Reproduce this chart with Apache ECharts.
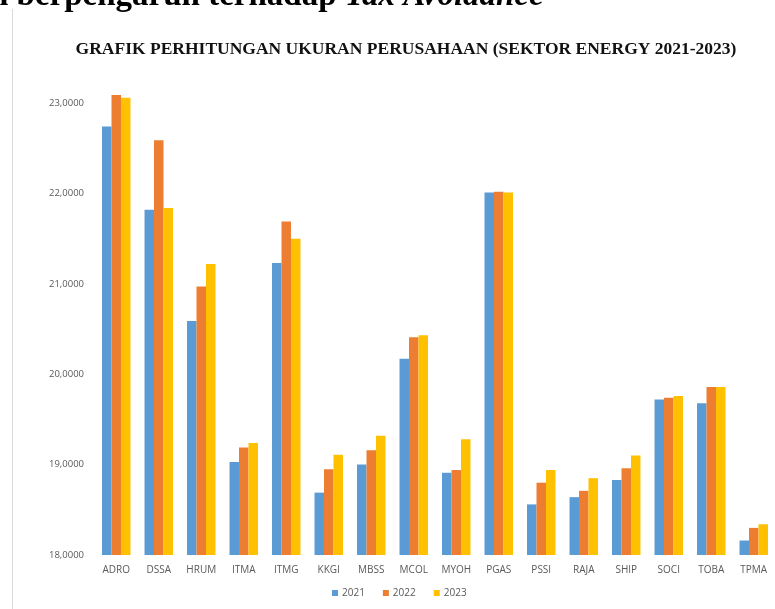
<!DOCTYPE html>
<html>
<head>
<meta charset="utf-8">
<script src="https://cdn.jsdelivr.net/npm/echarts@6/dist/echarts.min.js"></script>
<style>
  html, body { margin: 0; padding: 0; background: #fff; }
  #chart { width: 775px; height: 609px; }
</style>
</head>
<body>
<div id="chart"></div>
<script>
  // data
  var companies = ['ADRO', 'DSSA', 'HRUM', 'ITMA', 'ITMG', 'KKGI', 'MBSS', 'MCOL', 'MYOH', 'PGAS', 'PSSI', 'RAJA', 'SHIP', 'SOCI', 'TOBA', 'TPMA']
  var years = ['2021', '2022', '2023']
  var size2021 = [22.74, 21.82, 20.59, 19.03, 21.23, 18.69, 19.00, 20.17, 18.91, 22.01, 18.56, 18.64, 18.83, 19.72, 19.68, 18.16]
  var size2022 = [23.09, 22.59, 20.97, 19.19, 21.69, 18.95, 19.16, 20.41, 18.94, 22.02, 18.80, 18.71, 18.96, 19.74, 19.86, 18.30]
  var size2023 = [23.06, 21.84, 21.22, 19.24, 21.50, 19.11, 19.32, 20.43, 19.28, 22.01, 18.94, 18.85, 19.10, 19.76, 19.86, 18.34]
  var yMin = 18
  var yMax = 23.2

  var colors = ['#5B9BD5', '#ED7D31', '#FFC000']
  var allValues = [size2021, size2022, size2023]

  var myChart = echarts.init(document.getElementById('chart'))

  var series = years.map(function (y, i) {
    return {
      name: y,
      type: 'bar',
      data: allValues[i],
      barGap: 0,
      barCategoryGap: '33%',
      itemStyle: { color: colors[i] }
    }
  })

  var option = {
    animation: false,
    color: colors,
    title: {
      text: 'GRAFIK PERHITUNGAN UKURAN PERUSAHAAN (SEKTOR ENERGY 2021-2023)',
      left: 401,
      textAlign: 'center',
      top: 35,
      textStyle: {
        fontFamily: 'Liberation Serif',
        fontWeight: 'bold',
        fontSize: 17.5,
        color: '#111'
      }
    },
    legend: {
      data: years,
      left: 327,
      top: 583,
      icon: 'rect',
      itemWidth: 6,
      itemHeight: 6,
      itemGap: 18,
      textStyle: {
        fontFamily: 'Open Sans',
        fontSize: 10,
        color: '#595959',
        padding: [0, 0, 0, -1]
      }
    },
    grid: {
      left: 95,
      top: 85,
      width: 684,
      bottom: 54
    },
    xAxis: {
      type: 'category',
      data: companies,
      axisLine: { show: false },
      axisTick: { show: false },
      axisLabel: {
        margin: 10,
        fontFamily: 'Open Sans',
        fontSize: 10,
        color: '#595959'
      }
    },
    yAxis: {
      type: 'value',
      min: yMin,
      max: yMax,
      interval: 1,
      splitLine: { show: false },
      axisLine: { show: false },
      axisTick: { show: false },
      axisLabel: {
        margin: 11,
        showMaxLabel: false,
        fontFamily: 'Open Sans',
        fontSize: 9.5,
        color: '#595959',
        formatter: function (v) {
          if (v % 1 !== 0) return ''
          return v.toFixed(4).replace('.', ',')
        }
      }
    },
    graphic: [
      {
        // page heading cut off at the top
        type: 'text',
        left: -10,
        top: -20,
        style: {
          text: '{n|h berpengaruh terhadap }{i|Tax Avoidance}',
          rich: {
            n: { fontFamily: 'Liberation Serif', fontWeight: 'bold', fontSize: 33, fill: '#000' },
            i: { fontFamily: 'Liberation Serif', fontWeight: 'bold', fontStyle: 'italic', fontSize: 33, fill: '#000' }
          }
        }
      },
      {
        // chart box left border
        type: 'line',
        shape: { x1: 12.5, y1: 9, x2: 12.5, y2: 609 },
        style: { stroke: '#d9d9d9', lineWidth: 1 }
      }
    ],
    series: series
  }

  option && myChart.setOption(option)
  window.addEventListener('resize', myChart.resize)
</script>
</body>
</html>
